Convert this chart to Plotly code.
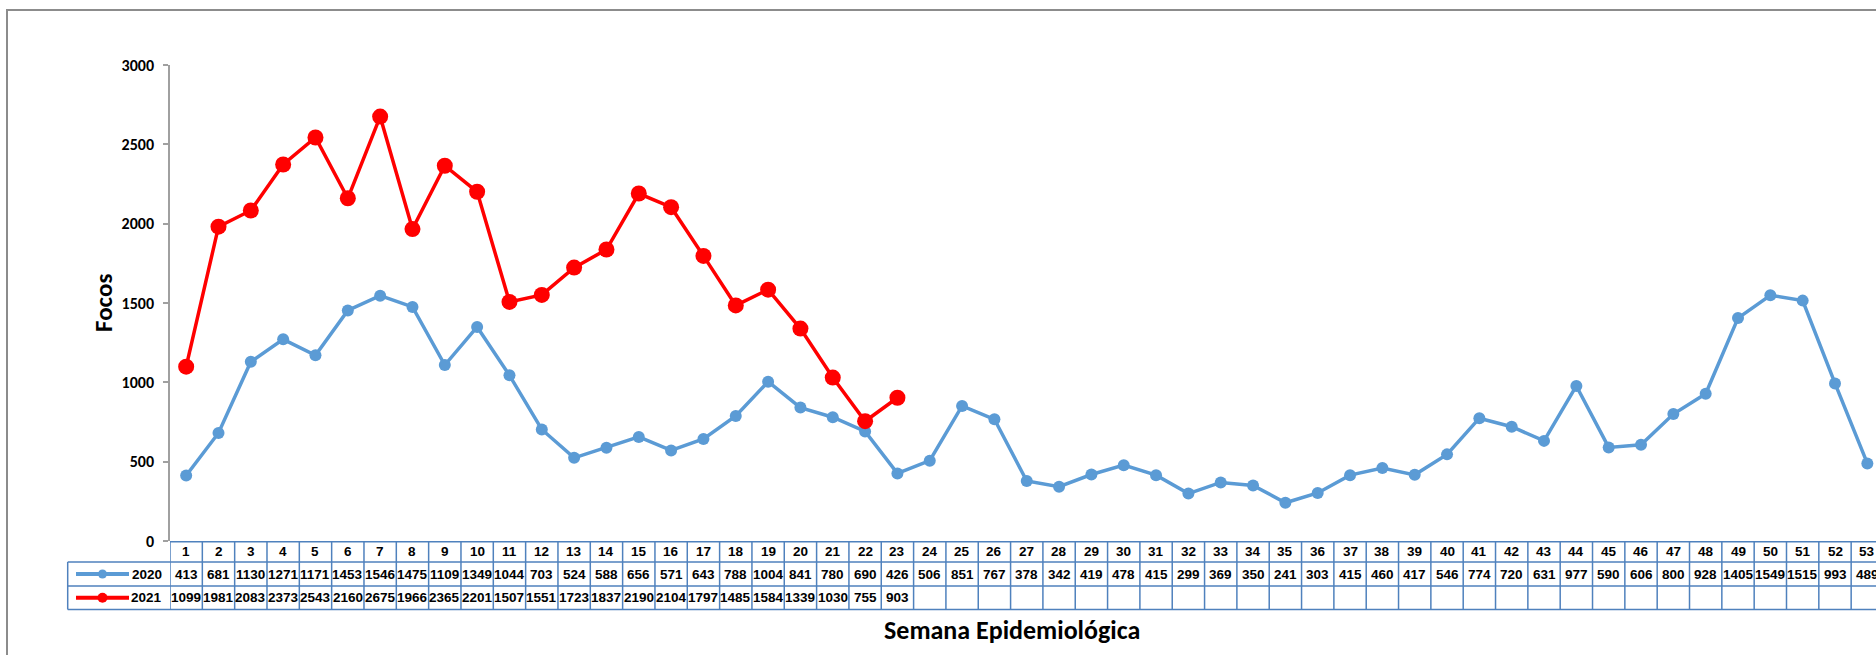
import plotly.graph_objects as go

weeks = list(range(1, 54))
focos_2020 = [413, 681, 1130, 1271, 1171, 1453, 1546, 1475, 1109, 1349, 1044, 703, 524, 588,
              656, 571, 643, 788, 1004, 841, 780, 690, 426, 506, 851, 767, 378, 342, 419, 478,
              415, 299, 369, 350, 241, 303, 415, 460, 417, 546, 774, 720, 631, 977, 590, 606,
              800, 928, 1405, 1549, 1515, 993, 489]
focos_2021 = [1099, 1981, 2083, 2373, 2543, 2160, 2675, 1966, 2365, 2201, 1507, 1551, 1723,
              1837, 2190, 2104, 1797, 1485, 1584, 1339, 1030, 755, 903]
series_names = ["2020", "2021"]
y_ticks = [0, 500, 1000, 1500, 2000, 2500, 3000]

W, H = 1876, 655
ML, MR, MT, MB = 170, 0, 65, 114
PW = W - ML - MR
PH = H - MT - MB
COL = 32.33
BLUE = "#5B9BD5"
RED = "#FF0000"
GRID = "#4F81BD"
NUM_FONT = dict(family="Arial, Liberation Sans, sans-serif", size=13.5, color="black", weight="bold")
CAL_FONT = "Calibri, Carlito, Lato, sans-serif"


def py(Y):
    return (H - MB - Y) / PH


def px(X):
    return (X - ML) / PW


fig = go.Figure()
fig.add_trace(go.Scatter(x=weeks, y=focos_2020, mode="lines+markers", name=series_names[0],
                         line=dict(color=BLUE, width=3.5), marker=dict(size=12, color=BLUE),
                         cliponaxis=False))
fig.add_trace(go.Scatter(x=weeks[:len(focos_2021)], y=focos_2021, mode="lines+markers",
                         name=series_names[1], line=dict(color=RED, width=3.5),
                         marker=dict(size=16, color=RED), cliponaxis=False))

shapes = []
annotations = []

# outer chart border (top & left visible)
shapes.append(dict(type="rect", xref="paper", yref="paper", x0=px(7), x1=1.05, y0=py(700), y1=py(10),
                   line=dict(color="#8C8C8C", width=2), layer="below"))

# table rows (pixel rows)
row_top, row_h1, row_h2, row_bot = 541.7, 562.0, 586.0, 609.5
legend_left = 67.7
shapes.append(dict(type="line", xref="paper", yref="paper", x0=0, x1=1.05, y0=py(row_top), y1=py(row_top),
                   line=dict(color=GRID, width=1.5)))
for Y in (row_h1, row_h2, row_bot):
    shapes.append(dict(type="line", xref="paper", yref="paper", x0=px(legend_left), x1=1.05, y0=py(Y), y1=py(Y),
                       line=dict(color=GRID, width=1.5)))
shapes.append(dict(type="line", xref="paper", yref="paper", x0=px(legend_left), x1=px(legend_left),
                   y0=py(row_h1), y1=py(row_bot), line=dict(color=GRID, width=1.5)))
for k in range(0, len(weeks) + 1):
    shapes.append(dict(type="line", xref="x", yref="paper", x0=k + 0.5, x1=k + 0.5,
                       y0=py(row_top), y1=py(row_bot), line=dict(color=GRID, width=1.5)))

# legend samples inside the table
for name, color, Yc, msz in ((series_names[0], BLUE, (row_h1 + row_h2) / 2, 4.5),
                             (series_names[1], RED, (row_h2 + row_bot) / 2, 5)):
    shapes.append(dict(type="line", xref="paper", yref="paper", x0=px(76), x1=px(129), y0=py(Yc), y1=py(Yc),
                       line=dict(color=color, width=4)))
    shapes.append(dict(type="circle", xref="paper", yref="paper", x0=px(102.5 - msz), x1=px(102.5 + msz),
                       y0=py(Yc + msz), y1=py(Yc - msz), fillcolor=color, line=dict(color=color, width=0)))
    annotations.append(dict(xref="paper", yref="paper", x=px(164), y=py(Yc), text=name, showarrow=False,
                            xanchor="right", yanchor="middle", font=NUM_FONT))

# header and values
for i, w in enumerate(weeks):
    annotations.append(dict(xref="x", yref="paper", x=w, y=py((row_top + row_h1) / 2), text=str(w),
                            showarrow=False, xanchor="center", yanchor="middle", font=NUM_FONT))
    annotations.append(dict(xref="x", yref="paper", x=w, y=py((row_h1 + row_h2) / 2), text=str(focos_2020[i]),
                            showarrow=False, xanchor="center", yanchor="middle", font=NUM_FONT))
for i, v in enumerate(focos_2021):
    annotations.append(dict(xref="x", yref="paper", x=weeks[i], y=py((row_h2 + row_bot) / 2), text=str(v),
                            showarrow=False, xanchor="center", yanchor="middle", font=NUM_FONT))

# axis titles
annotations.append(dict(xref="paper", yref="paper", x=px(103), y=py(303), text="<b>Focos</b>", showarrow=False,
                        textangle=-90, xanchor="center", yanchor="middle",
                        font=dict(family=CAL_FONT, size=25, color="black")))
annotations.append(dict(xref="paper", yref="paper", x=px(1012), y=py(630), text="<b>Semana Epidemiológica</b>",
                        showarrow=False, xanchor="center", yanchor="middle",
                        font=dict(family=CAL_FONT, size=26, color="black")))

fig.update_layout(
    width=W, height=H,
    margin=dict(l=ML, r=MR, t=MT, b=MB, pad=0),
    paper_bgcolor="white", plot_bgcolor="white",
    showlegend=False,
    shapes=shapes, annotations=annotations,
    xaxis=dict(range=[0.5, 0.5 + PW / COL], showgrid=False, zeroline=False, showline=False,
               showticklabels=False, ticks=""),
    yaxis=dict(range=[0, 3000], tickvals=y_ticks, ticktext=[f"<b>{t}</b>" for t in y_ticks],
               showgrid=False, zeroline=False, showline=True, linecolor="#A0A0A0", linewidth=1.5,
               ticks="outside", ticklen=5, tickcolor="#A0A0A0", tickwidth=1.5,
               ticklabelstandoff=6,
               tickfont=dict(family=CAL_FONT, size=16, color="black")),
)

fig.write_html("out.html", config={"displayModeBar": False},
               post_script="document.body.style.margin='0';document.body.style.overflow='hidden';")
